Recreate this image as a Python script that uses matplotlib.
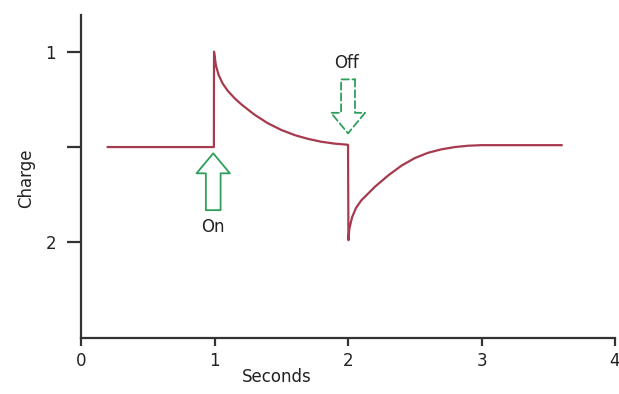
import matplotlib
matplotlib.use("Agg")
import matplotlib.pyplot as plt

# charge curve (seconds, charge)
seconds = [0.20, 0.995, 0.996, 1.01, 1.03, 1.06, 1.10, 1.15, 1.20, 1.30, 1.40, 1.50,
           1.60, 1.70, 1.80, 1.90, 2.00,
           2.003, 2.01, 2.03, 2.06, 2.10, 2.15, 2.20, 2.30, 2.40, 2.50, 2.60, 2.70,
           2.80, 2.90, 3.00, 3.60]
charge = [1.5, 1.5, 0.998, 1.07, 1.12, 1.165, 1.205, 1.243, 1.275, 1.33, 1.375, 1.41,
          1.437, 1.457, 1.472, 1.482, 1.488,
          1.99, 1.93, 1.87, 1.82, 1.78, 1.745, 1.71, 1.65, 1.598, 1.558, 1.53, 1.512,
          1.500, 1.493, 1.49, 1.49]

x_ticks = [0, 1, 2, 3, 4]
y_ticks = [1, 1.5, 2]
y_tick_labels = ["1", "", "2"]

line_color = "#a63a4e"
green = "#2e9e5b"
text_color = "#222222"

plt.rcParams['font.family'] = ['DejaVu Sans']

fig = plt.figure(figsize=(6.19, 3.94), dpi=100)
ax = fig.add_axes([0.131, 0.142, 0.8625, 0.82])

ax.plot(seconds, charge, color=line_color, linewidth=1.6, solid_joinstyle="round")

ax.set_xlim(0, 4)
ax.set_ylim(2.505, 0.805)
ax.set_xticks(x_ticks)
ax.set_yticks(y_ticks)
ax.set_yticklabels(y_tick_labels)

for s in ["top", "right"]:
    ax.spines[s].set_visible(False)
for s in ["left", "bottom"]:
    ax.spines[s].set_linewidth(1.6)
    ax.spines[s].set_color("#333333")

ax.tick_params(axis="x", length=6, width=1.6, color="#333333", pad=4,
               labelsize=12, labelcolor=text_color)
ax.tick_params(axis="y", length=10, width=1.6, color="#333333", pad=8,
               labelsize=12, labelcolor=text_color)

ax.set_xlabel("Seconds", fontsize=12, color=text_color)
ax.xaxis.set_label_coords(0.367, -0.093)
ax.set_ylabel("Charge", fontsize=12, color=text_color)
ax.yaxis.set_label_coords(-0.086, 0.494)

# "On" arrow (solid outline, pointing up)
ax.annotate("", xy=(0.99, 1.533), xytext=(0.99, 1.832),
            arrowprops=dict(arrowstyle="simple,head_length=1.44,head_width=2.4,tail_width=1.06",
                            mutation_scale=10, fc="white", ec=green, lw=1.3,
                            shrinkA=0, shrinkB=0))
ax.text(0.99, 1.921, "On", ha="center", va="center", fontsize=12, color=text_color)

# "Off" arrow (dashed outline, pointing down)
ax.annotate("", xy=(2.0, 1.428), xytext=(2.0, 1.144),
            arrowprops=dict(arrowstyle="simple,head_length=1.48,head_width=2.45,tail_width=1.0",
                            mutation_scale=10, fc="white", ec=green, lw=1.3,
                            ls=(0, (4, 2)), shrinkA=0, shrinkB=0))
ax.text(1.99, 1.056, "Off", ha="center", va="center", fontsize=12, color=text_color)

fig.savefig("out.png", dpi=100)
